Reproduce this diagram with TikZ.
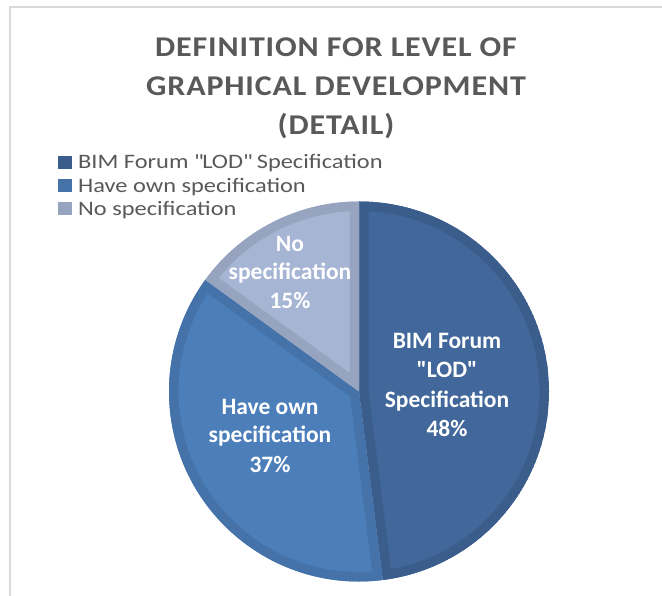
\documentclass[tikz,border=0pt]{standalone}
\usepackage{fontspec}
\setmainfont{Carlito}
\definecolor{fillA}{HTML}{41679B}
\definecolor{edgeA}{HTML}{3A5D8C}
\definecolor{fillB}{HTML}{4C7EBA}
\definecolor{edgeB}{HTML}{4572A8}
\definecolor{fillC}{HTML}{A7B5D4}
\definecolor{edgeC}{HTML}{96A4C0}
\definecolor{txtgray}{HTML}{595959}
\definecolor{framegray}{HTML}{D9D9D9}
\tikzset{
  titletext/.style={anchor=base, inner sep=0pt, text=txtgray, font=\fontsize{28.6}{34}\selectfont\bfseries\addfontfeatures{FakeStretch=1.12,LetterSpace=3}},
  legtext/.style={anchor=base west, inner sep=0pt, text=txtgray, font=\fontsize{20.5}{25}\selectfont\addfontfeatures{FakeStretch=1.19}},
  legbox/.style={inner sep=0pt, minimum size=13.5pt, anchor=south west},
  pielabel/.style={anchor=base, inner sep=0pt, text=white, font=\fontsize{23.5}{28}\selectfont\bfseries},
}
\begin{document}
\begin{tikzpicture}[x=1pt,y=1pt]
\useasboundingbox (0,0) rectangle (662,596);
\fill[white] (0,0) rectangle (662,596);
% frame
\draw[framegray, line width=2pt] (10,0) -- (10,589) -- (662,589);
% title
\node[titletext] (t1) at (336,539.3) {DEFINITION FOR LEVEL OF};
\node[titletext] (t2) at (336,500.3) {GRAPHICAL DEVELOPMENT};
\node[titletext] (t3) at (336,461) {(DETAIL)};
% legend
\node[legbox, fill=edgeA] (k1) at (58,426.5) {};
\node[legtext] (l1) at (78,427) {BIM Forum \textquotedbl LOD\textquotedbl{} Specification};
\node[legbox, fill=edgeB] (k2) at (58,403.5) {};
\node[legtext] (l2) at (78,403.5) {Have own specification};
\node[legbox, fill=edgeC] (k3) at (58,380.5) {};
\node[legtext] (l3) at (78,380.3) {No specification};
% pie
\coordinate (c) at (359,204.5);
\foreach \a/\b/\f/\d in {90/-82.8/fillA/edgeA, -82.8/-216/fillB/edgeB, -216/-270/fillC/edgeC}{
  \begin{scope}
    \clip (c) -- ++(\a:190) arc[start angle=\a, end angle=\b, radius=190] -- cycle;
    \fill[\f] (c) -- ++(\a:190) arc[start angle=\a, end angle=\b, radius=190] -- cycle;
    \draw[\d, line width=19pt] (c) -- ++(\a:190) arc[start angle=\a, end angle=\b, radius=190] -- cycle;
  \end{scope}
}
% labels
\node[pielabel] (a1) at (447,247) {BIM Forum};
\node[pielabel] (a2) at (447,218) {\textquotedbl LOD\textquotedbl};
\node[pielabel] (a3) at (447,188) {Specification};
\node[pielabel] (a4) at (447,159) {48\%};
\node[pielabel] (b1) at (270,181) {Have own};
\node[pielabel] (b2) at (270,153) {specification};
\node[pielabel] (b3) at (270,123) {37\%};
\node[pielabel] (d1) at (290,344) {No};
\node[pielabel] (d2) at (290,316) {specification};
\node[pielabel] (d3) at (290,287) {15\%};
\end{tikzpicture}
\end{document}
